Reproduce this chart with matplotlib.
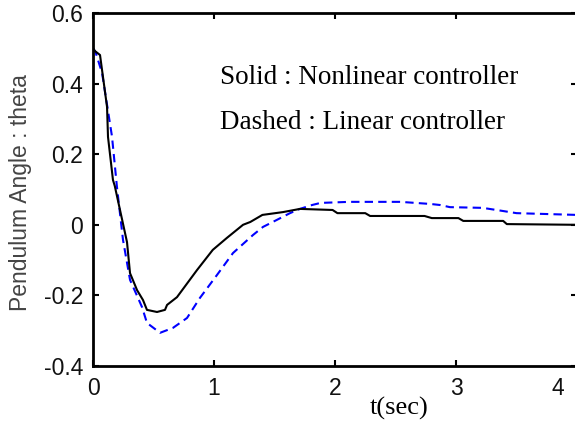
import matplotlib.pyplot as plt
from matplotlib.transforms import ScaledTranslation

# courbe continue : controleur non lineaire
t_solid = [0.0, 0.017, 0.058, 0.116, 0.124, 0.165, 0.18, 0.281, 0.306, 0.364, 0.413,
           0.446, 0.529, 0.595, 0.612, 0.694, 0.86, 0.99, 1.107, 1.24, 1.30, 1.40,
           1.57, 1.71, 1.98, 2.02, 2.25, 2.29, 2.74, 2.80, 3.02, 3.06, 3.39, 3.42, 4.0]
theta_solid = [0.5, 0.492, 0.481, 0.334, 0.249, 0.127, 0.110, -0.049, -0.137, -0.185, -0.213,
               -0.241, -0.247, -0.241, -0.227, -0.205, -0.128, -0.071, -0.037, 0.0, 0.008, 0.028,
               0.036, 0.045, 0.042, 0.033, 0.033, 0.025, 0.025, 0.019, 0.019, 0.011, 0.011, 0.002, 0.0]

# courbe pointillee : controleur lineaire
t_dash = [0.0, 0.02, 0.075, 0.157, 0.198, 0.248, 0.306, 0.405, 0.446, 0.554, 0.661, 0.777,
          0.884, 1.025, 1.157, 1.322, 1.405, 1.52, 1.628, 1.71, 1.81, 1.88, 2.12, 2.54,
          2.79, 2.87, 2.95, 3.22, 3.39, 3.50, 4.0]
theta_dash = [0.5, 0.49, 0.43, 0.25, 0.107, -0.043, -0.156, -0.233, -0.278, -0.306, -0.292, -0.264,
              -0.207, -0.142, -0.080, -0.029, -0.006, 0.014, 0.033, 0.045, 0.056, 0.062, 0.065, 0.065,
              0.059, 0.056, 0.050, 0.048, 0.039, 0.033, 0.028]

xticks = [0, 1, 2, 3, 4]
yticks = [-0.4, -0.2, 0, 0.2, 0.4, 0.6]
ytick_labels = ['-0.4', '-0.2', '0', '0.2', '0.4', '0.6']

fig = plt.figure(figsize=(5.75, 4.21), dpi=100)
ax = fig.add_axes([93/575, 1 - 366/421, 484/575, 353/421])

ax.plot(t_dash, theta_dash, color='#0000ff', linestyle=(0, (4, 2.5)), linewidth=1.5)
ax.plot(t_solid, theta_solid, color='black', linewidth=1.5)

ax.set_xlim(0, 4)
ax.set_ylim(-0.4, 0.6)
ax.set_xticks(xticks)
ax.set_xticklabels([str(v) for v in xticks])
ax.set_yticks(yticks)
ax.set_yticklabels(ytick_labels)

for s in ax.spines.values():
    s.set_linewidth(2)
ax.tick_params(direction='in', top=True, right=True, length=4, width=1.5,
               labelsize=16.5, labelcolor='#111111')
ax.tick_params(axis='x', pad=8)
ax.tick_params(axis='y', pad=7)
for lab in ax.get_xticklabels() + ax.get_yticklabels():
    lab.set_family('Liberation Sans')

ax.set_ylabel('Pendulum Angle : theta', family='Liberation Sans', fontsize=16.5, color='#444444')
ax.yaxis.set_label_coords(-0.125, 0.49)
ax.set_xlabel('t(sec)', family='Liberation Serif', fontsize=19)
ax.xaxis.set_label_coords(0.632, -0.088)

ax.text(1.05, 0.398, 'Solid : Nonlinear controller', family='Liberation Serif', fontsize=19.5)
ax.text(1.05, 0.271, 'Dashed : Linear controller', family='Liberation Serif', fontsize=19.5)

# le "4" est decale vers la gauche dans l'original
last = ax.get_xticklabels()[-1]
last.set_transform(last.get_transform() + ScaledTranslation(-19/100, 0, fig.dpi_scale_trans))

fig.savefig('out.png', dpi=100)
